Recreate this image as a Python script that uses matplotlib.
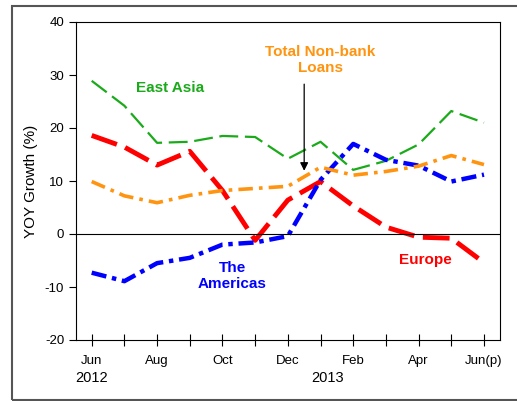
import numpy as np
import matplotlib.pyplot as plt
from matplotlib.patches import Rectangle

plt.rcParams["font.family"] = ["Liberation Sans", "DejaVu Sans"]
plt.rcParams["axes.unicode_minus"] = False

months = ["Jun", "Jul", "Aug", "Sep", "Oct", "Nov", "Dec",
          "Jan", "Feb", "Mar", "Apr", "May", "Jun(p)"]
east_asia = [28.9, 24.2, 17.2, 17.4, 18.5, 18.3, 14.2, 17.4, 12.1, 13.8, 16.9, 23.2, 21.0]
europe = [18.6, 16.4, 13.0, 15.6, 8.2, -1.2, 6.4, 9.9, 5.3, 1.3, -0.6, -0.8, -5.4]
americas = [-7.3, -8.9, -5.5, -4.5, -2.0, -1.6, -0.4, 10.2, 17.0, 14.0, 12.9, 9.9, 11.2]
total = [9.9, 7.2, 5.9, 7.3, 8.2, 8.6, 9.0, 12.6, 11.1, 11.8, 12.8, 14.8, 13.1]

x = np.arange(len(months))

fig = plt.figure(figsize=(5.17, 4.01), dpi=100)
ax = fig.add_axes([76 / 517, 61 / 401, 424 / 517, 318 / 401])

ax.plot(x, east_asia, color="#1aaa1a", lw=1.6, dashes=(8.5, 3))
ax.plot(x, europe, color="#ff0000", lw=3.5, dashes=(5.5, 1.8))
ax.plot(x, americas, color="#0000ff", lw=3.2, dashes=(3.4, 1.3, 1, 1.3))
ax.plot(x, total, color="#ff9410", lw=2.6, dashes=(4, 1.7, 1, 1.7))

ax.axhline(0, color="black", lw=0.8)

ax.set_xlim(-0.48, 12.49)
ax.set_ylim(-20, 40)
ax.set_yticks(range(-20, 41, 10))
ax.set_xticks(x)
ax.set_xticklabels([m if i % 2 == 0 else "" for i, m in enumerate(months)])
ax.tick_params(axis="x", direction="inout", length=9, width=0.8, labelsize=9.5, pad=6)
ax.tick_params(axis="y", direction="out", length=5, width=0.8, labelsize=9.5)
ax.set_ylabel("YOY Growth (%)", fontsize=11, labelpad=5)

ax.text(0, -27.2, "2012", ha="center", va="center", fontsize=10.5)
ax.text(7.2, -27.2, "2013", ha="center", va="center", fontsize=10.5)

ax.text(2.4, 27.5, "East Asia", color="#1aaa1a", fontsize=11, fontweight="bold",
        ha="center", va="center")
ax.text(7.0, 32.8, "Total Non-bank\nLoans", color="#ff9410", fontsize=11,
        fontweight="bold", ha="center", va="center", linespacing=1.15)
ax.text(4.3, -7.9, "The\nAmericas", color="#0000ff", fontsize=11,
        fontweight="bold", ha="center", va="center", linespacing=1.15)
ax.text(10.2, -4.9, "Europe", color="#ff0000", fontsize=11, fontweight="bold",
        ha="center", va="center")

ax.annotate("", xy=(6.5, 11.4), xytext=(6.5, 28.8),
            arrowprops=dict(arrowstyle="-|>", color="black", lw=0.9,
                            mutation_scale=12))

fig.patches.append(Rectangle((12 / 517, 1 / 401), 1.0, 394 / 401,
                             transform=fig.transFigure, fill=False,
                             edgecolor="#555555", lw=1.5))

fig.savefig("out.png", dpi=100)
